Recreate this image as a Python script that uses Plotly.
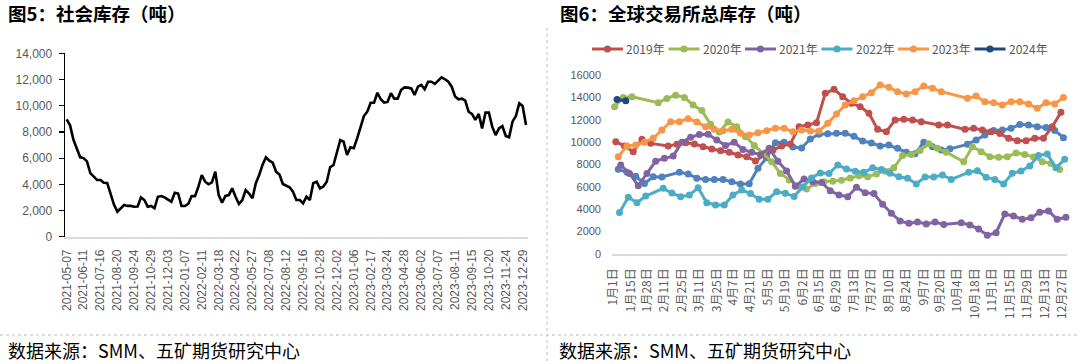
import pandas as pd
import plotly.graph_objects as go

W, H = 1080, 364

# ---------------- Figure 5: social inventory (tons) ----------------
social_start = "2021-05-07"
social_end = "2024-01-05"
social_missing_weeks = ["2022-06-03", "2022-10-07", "2023-01-27"]
social_values = [
    8960, 8500, 7400, 6750, 6060, 6000, 5750, 4850, 4580, 4330,
    4330, 4120, 4100, 3200, 2450, 1910, 2170, 2420, 2350, 2350,
    2290, 2300, 3000, 2800, 2290, 2350, 2170, 3050, 3100, 3000,
    2830, 2670, 3360, 3300, 2340, 2340, 2500, 3110, 3100, 3820,
    4710, 4200, 4000, 4150, 4960, 3180, 2600, 3110, 3180, 3690,
    3050, 2500, 2800, 3560, 3300, 2930, 4080, 4710, 5500, 6060,
    5800, 5650, 4960, 4750, 4020, 3900, 3770, 3440, 2800, 2800,
    2550, 3050, 2800, 4080, 4200, 3690, 3830, 4200, 5300, 5470,
    6370, 7380, 7250, 6240, 6820, 6750, 7510, 8400, 9210, 9540,
    10230, 10230, 10990, 10490, 10230, 10290, 10950, 10540, 10540, 11200,
    11400, 11380, 11320, 10820, 11450, 11580, 11250, 11830, 11830, 11660,
    11950, 12170, 12020, 11830, 11450, 10700, 10490, 10540, 10380, 9540,
    9370, 8910, 9370, 8270, 9470, 9470, 8400, 7760, 8270, 8450,
    7690, 7590, 8780, 9210, 10180, 9980, 8530,
]
social_cats = [d.strftime("%Y-%m-%d")
               for d in pd.date_range(social_start, social_end, freq="7D")
               if d.strftime("%Y-%m-%d") not in social_missing_weeks]
assert len(social_cats) == len(social_values)
social_ticks = social_cats[::5]
social_yticks = [0, 2000, 4000, 6000, 8000, 10000, 12000, 14000]

# ---------------- Figure 6: global exchange total inventory (tons) ----------------
season_ticklabels = ["1月1日", "1月15日", "1月28日", "2月11日", "2月25日", "3月11日", "3月25日",
                     "4月7日", "4月21日", "5月5日", "5月19日", "6月2日", "6月15日", "6月29日",
                     "7月13日", "7月27日", "8月10日", "8月24日", "9月7日", "9月20日", "10月4日",
                     "10月18日", "11月1日", "11月15日", "11月29日", "12月13日", "12月27日"]
season_yticks = [0, 2000, 4000, 6000, 8000, 10000, 12000, 14000, 16000]

N = None
inv_2018 = [7570, 7300, 6950, 6300, 6900, 6880, N, 7300, 7150, 6780,
            6670, 6670, 6670, 6450, 6260, 6280, 7660, 8600, 9950, 10000,
            9560, 9480, 10280, 10700, 10750, 10800, 10790, 10520, 10100, 9920,
            9650, 9740, 9450, 9100, 8970, 10000, 9590, 9300, 9400, N,
            9800, 10200, 10640, 11050, 11080, 11230, 11580, 11530, 11380, 11300,
            11050, 10400]
inv_2019 = [10040, 9650, 9140, 10250, 9890, N, 9650, 9800, 9950, 9830,
            9590, 9380, 9230, 9090, 8850, 8700, 8310, 8850, 9290, 9650,
            9830, 11380, 11530, 11740, 14360, 14720, 14060, 13470, 13170, 12570,
            11140, 10930, 11980, 12040, 11980, 11820, N, 11530, 11530, N,
            11140, 11230, 11080, 10930, 10780, 10340, 10130, 10130, 10340, 10340,
            11380, 12660]
inv_2020 = [13165, 14000, 14050, N, N, 13520, 13900, 14200, 14000, 13320,
            12820, 11600, 10900, 11800, 11380, 10490, 9700, 9000, 8250, 7200,
            6610, 6100, 5800, 6300, 6460, 6500, 6600, 6800, 7000, 6900,
            7150, 7400, 7700, 8800, 8900, 9250, 9850, 9450, 9100, N,
            8250, 9590, 9150, 8700, 8640, 8700, 9030, 8900, 8670, 8250,
            8100, 7550]
inv_2021 = [7960, 7200, 6100, 7200, 8300, 8550, 8750, 10000, 10430, 10680,
            10700, 10190, 9700, 10000, 9330, 9100, 8880, 9450, 8300, 7420,
            6050, 6700, 6460, 6400, 5650, 5270, 5120, 5960, 5480, 5400,
            4450, 3640, 2960, 2740, 2860, 2680, 2860, 2640, N, 2800,
            2590, 2230, 1670, 1900, 3580, 3400, 3100, 3230, 3730, 3850,
            3100, 3280]
inv_2022 = [3700, 5070, 4590, 5180, N, 5870, 5450, 5120, 5270, 5920,
            4590, 4380, 4380, 5270, 5720, 5400, 4900, 4900, 5570, 5420,
            5150, 6000, 6800, 7250, 7200, 7960, 7600, 7400, 7300, 7700,
            7550, 7210, 6910, 6770, 6260, 6880, 6880, 7060, 6670, N,
            7300, 7450, 6850, 6670, 6260, 7210, 7420, 7870, 8800, 8940,
            7700, 8460]
inv_2023 = [8700, 9650, 9740, 10000, 10340, 11080, 11820, 11820, 12100, 11800,
            11380, 11140, 11020, 11140, 10790, 10640, 10840, 11020, 11230, 11230,
            10930, 11080, 10990, 10990, 11680, 12510, 13320, 13700, 14060, 14420,
            15110, 14900, 14510, 14300, 14510, 15020, 14810, 14510, N, N,
            13920, 14120, 13610, 13520, 13320, 13610, 13610, 13410, 13020, 13520,
            13410, 14000]
inv_2024 = [13800, 13700]

series = [
    ("2018年", "2018-01-05", inv_2018, "#4F81BD", False),
    ("2019年", "2019-01-03", inv_2019, "#C0504D", True),
    ("2020年", "2020-01-02", inv_2020, "#9BBB59", True),
    ("2021年", "2021-01-07", inv_2021, "#8064A2", True),
    ("2022年", "2022-01-06", inv_2022, "#4BACC6", True),
    ("2023年", "2023-01-05", inv_2023, "#F79646", True),
    ("2024年", "2024-01-04", inv_2024, "#1F497D", True),
]


def px(x):
    return x / W


def py(y):
    return 1 - y / H


GRAY = "#595959"
NUMFONT = "Liberation Sans, Arial, sans-serif"
CJK = "Noto Sans CJK SC, sans-serif"

fig = go.Figure()

fig.add_trace(go.Scatter(
    x=social_cats, y=social_values, mode="lines",
    line=dict(color="#000000", width=2.6),
    xaxis="x", yaxis="y", showlegend=False, hoverinfo="skip"))

tick_days = [pd.Timestamp(2023, int(t.split("月")[0]), int(t.split("月")[1].rstrip("日"))).dayofyear - 1
             for t in season_ticklabels]

for name, start, vals, color, show in series:
    dates = pd.date_range(start, periods=len(vals), freq="7D")
    xs = [int(d.dayofyear) - 1 for d in dates]
    fig.add_trace(go.Scatter(
        x=xs, y=vals, name=name, mode="lines+markers", connectgaps=True,
        line=dict(color=color, width=3), marker=dict(color=color, size=7),
        xaxis="x2", yaxis="y2", showlegend=False, cliponaxis=False, hoverinfo="skip"))

fig.update_layout(
    width=W, height=H, margin=dict(l=0, r=0, t=0, b=0, pad=0, autoexpand=False),
    paper_bgcolor="white", plot_bgcolor="white", showlegend=False,
    xaxis=dict(domain=[px(65), px(527.7)], anchor="y", type="category",
               range=[-0.5, len(social_cats) - 0.5], automargin=False,
               tickmode="array", tickvals=social_ticks, ticktext=social_ticks,
               tickangle=-90, showline=True, linecolor="#D9D9D9", linewidth=2,
               ticks="", showgrid=False, zeroline=False, ticklabelstandoff=6,
               tickfont=dict(family=NUMFONT, size=12, color=GRAY)),
    yaxis=dict(domain=[py(236.7), py(53.3)], anchor="x", range=[0, 14000], automargin=False,
               tickmode="array", tickvals=social_yticks, tickformat=",d",
               showline=True, linecolor="#000000", linewidth=1.4,
               ticks="outside", ticklen=5, tickcolor="#000000", tickwidth=1.2,
               showgrid=False, zeroline=False, ticklabelstandoff=4,
               tickfont=dict(family=NUMFONT, size=12, color=GRAY)),
    xaxis2=dict(domain=[px(612), px(1066.5)], anchor="y2", range=[-1.04, 363.46], automargin=False,
                tickmode="array", tickvals=tick_days, ticktext=season_ticklabels,
                tickangle=-90, showline=True, linecolor="#D9D9D9", linewidth=1.5,
                ticks="", showgrid=False, zeroline=False, ticklabelstandoff=8,
                tickfont=dict(family=CJK, size=12, color=GRAY)),
    yaxis2=dict(domain=[py(254), py(75)], anchor="x2", range=[0, 16000], automargin=False,
                tickmode="array", tickvals=season_yticks, tickformat="d",
                showline=False, ticks="", showgrid=False, zeroline=False,
                ticklabelstandoff=10,
                tickfont=dict(family=NUMFONT, size=11, color=GRAY)),
)

# compact legend (line + marker + label) for the seasonal chart
legend_items = [(name, color) for name, _, _, color, show in series if show]
LEG_X0, LEG_STEP, LEG_Y, LEG_LINE = 592, 76.5, 49, 31
for k, (name, color) in enumerate(legend_items):
    x0 = LEG_X0 + k * LEG_STEP
    fig.add_shape(type="line", xref="paper", yref="paper",
                  x0=px(x0), x1=px(x0 + LEG_LINE), y0=py(LEG_Y), y1=py(LEG_Y),
                  line=dict(color=color, width=3))
    cx = x0 + LEG_LINE / 2
    fig.add_shape(type="circle", xref="paper", yref="paper",
                  x0=px(cx - 3.6), x1=px(cx + 3.6), y0=py(LEG_Y + 3.6), y1=py(LEG_Y - 3.6),
                  line=dict(width=0), fillcolor=color)
    fig.add_annotation(xref="paper", yref="paper", x=px(x0 + LEG_LINE + 1), y=py(LEG_Y),
                       xanchor="left", yanchor="middle", showarrow=False, text=name,
                       font=dict(family=CJK, size=12, color=GRAY))

annotations = [
    dict(text="<b>图5：社会库存（吨）</b>", x=px(6), y=py(13), size=18.5),
    dict(text="<b>图6：全球交易所总库存（吨）</b>", x=px(558), y=py(13), size=18.5),
    dict(text="数据来源：SMM、五矿期货研究中心", x=px(6), y=py(350), size=18),
    dict(text="数据来源：SMM、五矿期货研究中心", x=px(557), y=py(350), size=18),
]
for a in annotations:
    size = a.pop("size")
    fig.add_annotation(xref="paper", yref="paper", xanchor="left", yanchor="middle",
                       showarrow=False, font=dict(family=CJK, size=size, color="#000000"), **a)

fig.add_shape(type="line", xref="paper", yref="paper", x0=px(547), x1=px(547), y0=py(28), y1=0,
              line=dict(color="#BFBFBF", width=1, dash="dot"))
fig.add_shape(type="line", xref="paper", yref="paper", x0=0, x1=1, y0=py(335), y1=py(335),
              line=dict(color="#BFBFBF", width=1, dash="dot"))

fig.write_html(
    "out.html",
    config={"displayModeBar": False, "staticPlot": True},
    post_script="document.documentElement.style.margin='0';document.body.style.margin='0';"
                "document.body.style.overflow='hidden';",
)
